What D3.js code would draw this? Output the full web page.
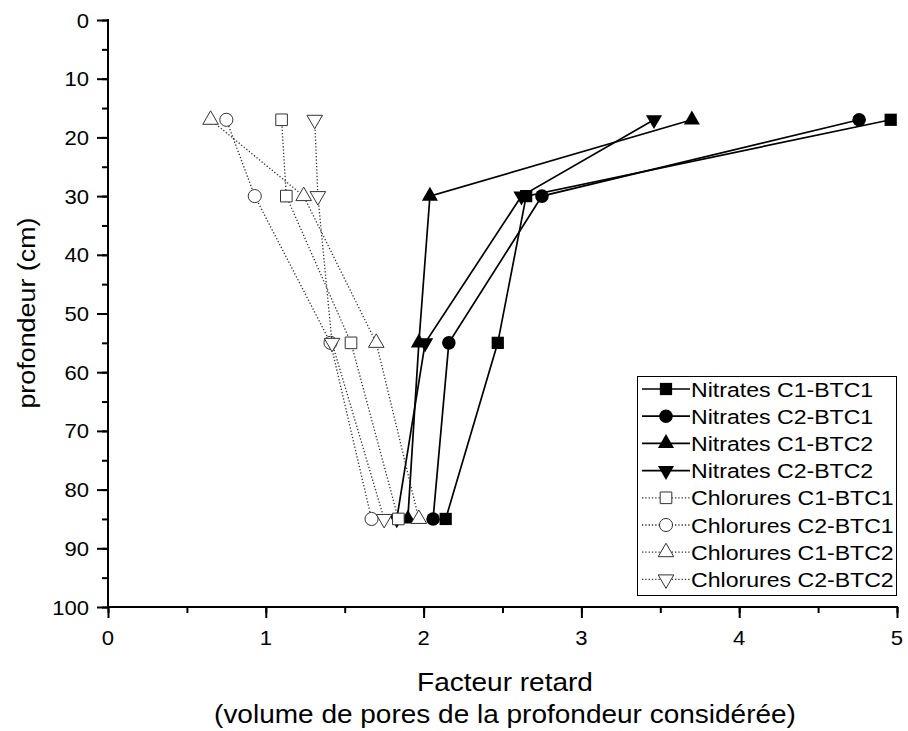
<!DOCTYPE html>
<html><head><meta charset="utf-8">
<script src="https://cdn.jsdelivr.net/npm/d3@7"></script>
<style>body{margin:0;background:#fff}svg{display:block}text{font-family:"Liberation Sans",Arial,sans-serif;fill:#000}</style>
</head><body><svg id="c" width="908" height="731"></svg>
<script>
const depths = [17, 30, 55, 85];
const seriesNames = ["Nitrates C1-BTC1","Nitrates C2-BTC1","Nitrates C1-BTC2","Nitrates C2-BTC2",
  "Chlorures C1-BTC1","Chlorures C2-BTC1","Chlorures C1-BTC2","Chlorures C2-BTC2"];
const nitC1BTC1 = [4.96, 2.65, 2.47, 2.14];
const nitC2BTC1 = [4.76, 2.75, 2.16, 2.06];
const nitC1BTC2 = [3.70, 2.04, 1.97, 1.90];
const nitC2BTC2 = [3.46, 2.62, 2.01, 1.83];
const chlC1BTC1 = [1.10, 1.13, 1.54, 1.84];
const chlC2BTC1 = [0.75, 0.93, 1.41, 1.67];
const chlC1BTC2 = [0.65, 1.24, 1.70, 1.97];
const chlC2BTC2 = [1.31, 1.33, 1.42, 1.75];
const xTicks = [0,1,2,3,4,5];
const yTicks = [0,10,20,30,40,50,60,70,80,90,100];
const xLabel1 = "Facteur retard";
const xLabel2 = "(volume de pores de la profondeur considérée)";
const yLabel = "profondeur (cm)";

const values = [nitC1BTC1,nitC2BTC1,nitC1BTC2,nitC2BTC2,chlC1BTC1,chlC2BTC1,chlC1BTC2,chlC2BTC2];
const shapes = ["square","circle","up","down","square","circle","up","down"];

const svg = d3.select("#c");
const x = d3.scaleLinear().domain([0,5]).range([108,897]);
const y = d3.scaleLinear().domain([0,100]).range([20,607]);

function sText(g, tx, ty, str, size, sx, anchor, rot){
  return g.append("text")
    .attr("transform", `translate(${tx},${ty})` + (rot ? ` rotate(${rot})` : "") + ` scale(${sx},1)`)
    .attr("text-anchor", anchor).attr("font-size", size).text(str);
}

function symPath(shape, open){
  const s = {square: d3.symbolSquare, circle: d3.symbolCircle, up: d3.symbolTriangle, down: d3.symbolTriangle}[shape];
  const size = {square: open?135:150, circle: open?135:145, up: open?105:112, down: open?105:112}[shape];
  return d3.symbol().type(s).size(size)();
}
function drawMarker(g, shape, open, cx, cy){
  g.append("path").attr("d", symPath(shape, open))
    .attr("transform", `translate(${cx},${cy})` + (shape==="down" ? " rotate(180)" : ""))
    .attr("fill", open ? "#fff" : "#000")
    .attr("stroke", open ? "#333" : "none")
    .attr("stroke-width", 1);
}

// axes
const xAxis = svg.append("g").attr("transform","translate(0,607)");
xAxis.call(d3.axisBottom(x).tickValues(d3.range(0,5.01,0.5)).tickSize(6).tickFormat(""))
  .call(g=>g.select(".domain").remove());
xAxis.append("g").call(d3.axisBottom(x).tickValues(xTicks).tickSize(11).tickFormat(""))
  .call(g=>g.select(".domain").remove());
xAxis.selectAll("line").attr("stroke","#000").attr("stroke-width",2);
xAxis.append("line").attr("x1",107).attr("x2",898).attr("y1",0).attr("y2",0).attr("stroke","#000").attr("stroke-width",2);
xTicks.forEach(t=>sText(svg, x(t), 645, d3.format("d")(t), 21, 1.05, "middle"));

const yAxis = svg.append("g").attr("transform","translate(108,0)");
yAxis.call(d3.axisLeft(y).tickValues(d3.range(0,101,5)).tickSize(6).tickFormat(""))
  .call(g=>g.select(".domain").remove());
yAxis.append("g").call(d3.axisLeft(y).tickValues(yTicks).tickSize(11).tickFormat(""))
  .call(g=>g.select(".domain").remove());
yAxis.selectAll("line").attr("stroke","#000").attr("stroke-width",2);
yAxis.append("line").attr("x1",0).attr("x2",0).attr("y1",19).attr("y2",608).attr("stroke","#000").attr("stroke-width",2);
yTicks.forEach(t=>sText(svg, 89, y(t)+7.5, d3.format("d")(t), 21, 1.05, "end"));

// series lines then markers (nitrates first, chlorures on top)
const line = d3.line().x(d=>x(d[0])).y(d=>y(d[1]));
values.forEach((vals,i)=>{
  const open = i>=4;
  const pts = vals.map((v,j)=>[v,depths[j]]);
  const g = svg.append("g");
  g.append("path").attr("d", line(pts)).attr("fill","none")
    .attr("stroke", open ? "#333" : "#000")
    .attr("stroke-width", open ? 1.3 : 1.7)
    .attr("stroke-dasharray", open ? "1.3,2" : null);
  pts.forEach(p=>drawMarker(g, shapes[i], open, x(p[0]), y(p[1])));
});

// legend
const lg = svg.append("g");
lg.append("rect").attr("x",637.5).attr("y",376.5).attr("width",259).attr("height",219)
  .attr("fill","#fff").attr("stroke","#000").attr("stroke-width",1);
seriesNames.forEach((name,i)=>{
  const open = i>=4;
  const cy = 389 + i*27.2;
  lg.append("line").attr("x1",642).attr("x2",690).attr("y1",cy).attr("y2",cy)
    .attr("stroke", open ? "#333" : "#000").attr("stroke-width", open?1.3:1.7)
    .attr("stroke-dasharray", open ? "1.3,2" : null);
  drawMarker(lg, shapes[i], open, 666, cy);
  sText(lg, 691, cy+7.5, name, 21, 1.1, "start");
});

// axis titles
sText(svg, 505, 691, xLabel1, 25, 1.12, "middle");
sText(svg, 505, 723, xLabel2, 25, 1.12, "middle");
sText(svg, 35, 313, yLabel, 24, 1.12, "middle", -90);
</script></body></html>
